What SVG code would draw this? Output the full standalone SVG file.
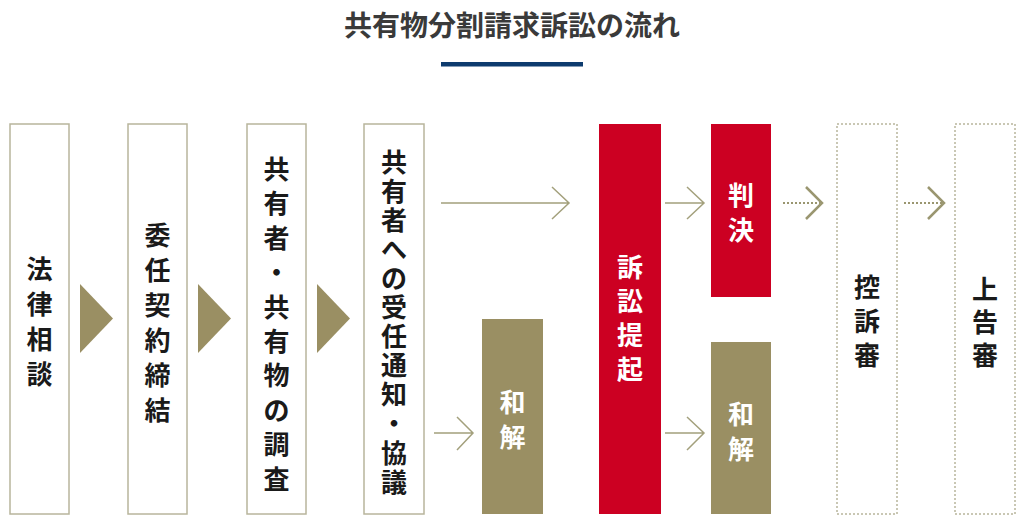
<svg xmlns="http://www.w3.org/2000/svg" width="1024" height="520" viewBox="0 0 1024 520">
<style>
text{font-family:"Noto Sans CJK JP","Noto Sans",sans-serif;font-weight:700;text-anchor:middle;dominant-baseline:central}
.t{font-size:26px;fill:#1a1a1a}
.w{font-size:26px;fill:#ffffff}
.box{fill:#ffffff;stroke:#b8b59c;stroke-width:1.5}
.dbox{fill:#ffffff;stroke:#b8b59c;stroke-width:1.5;stroke-dasharray:2 2}
.red{fill:#cc0022}
.olive{fill:#9a8f63}
.tri{fill:#9a8f63}
.ar{fill:none;stroke:#a3a07c;stroke-width:1.5}
.dar{fill:none;stroke:#9a9670;stroke-width:2;stroke-dasharray:2 2}
.chev{fill:none;stroke:#9a9670;stroke-width:2.5}
</style>
<rect width="1024" height="520" fill="#ffffff"/>
<g id="title">
<text x="512" y="24" style="font-size:28px;fill:#3a3a3a">共有物分割請求訴訟の流れ</text>
<rect x="441" y="62" width="142" height="4.5" fill="#0d3b6e"/>
</g>
<g id="n1">
<rect class="box" x="10" y="124" width="59" height="390"/>
<text class="t"><tspan x="39.5" y="267">法</tspan><tspan x="39.5" y="302">律</tspan><tspan x="39.5" y="337">相</tspan><tspan x="39.5" y="372">談</tspan></text>
</g>
<g id="n2">
<rect class="box" x="128" y="124" width="59" height="390"/>
<text class="t"><tspan x="157.5" y="233">委</tspan><tspan x="157.5" y="268">任</tspan><tspan x="157.5" y="303">契</tspan><tspan x="157.5" y="338">約</tspan><tspan x="157.5" y="373">締</tspan><tspan x="157.5" y="408">結</tspan></text>
</g>
<g id="n3">
<rect class="box" x="247" y="124" width="59" height="390"/>
<text class="t"><tspan x="276.5" y="167">共</tspan><tspan x="276.5" y="201">有</tspan><tspan x="276.5" y="236">者</tspan><tspan x="276.5" y="270">・</tspan><tspan x="276.5" y="305">共</tspan><tspan x="276.5" y="339">有</tspan><tspan x="276.5" y="373">物</tspan><tspan x="276.5" y="408">の</tspan><tspan x="276.5" y="442">調</tspan><tspan x="276.5" y="477">査</tspan></text>
</g>
<g id="n4">
<rect class="box" x="364" y="124" width="60" height="390"/>
<text class="t"><tspan x="394" y="160">共</tspan><tspan x="394" y="189">有</tspan><tspan x="394" y="218">者</tspan><tspan x="394" y="247">へ</tspan><tspan x="394" y="276">の</tspan><tspan x="394" y="305">受</tspan><tspan x="394" y="334">任</tspan><tspan x="394" y="363">通</tspan><tspan x="394" y="392">知</tspan><tspan x="394" y="421">・</tspan><tspan x="394" y="451">協</tspan><tspan x="394" y="480">議</tspan></text>
</g>
<g id="n5">
<rect class="olive" x="482" y="319" width="61" height="195"/>
<text class="w"><tspan x="512.5" y="400">和</tspan><tspan x="512.5" y="435">解</tspan></text>
</g>
<g id="n6">
<rect class="red" x="599" y="124" width="62" height="390"/>
<text class="w"><tspan x="630" y="265">訴</tspan><tspan x="630" y="299">訟</tspan><tspan x="630" y="333">提</tspan><tspan x="630" y="367">起</tspan></text>
</g>
<g id="n7">
<rect class="red" x="711" y="124" width="60" height="173"/>
<text class="w"><tspan x="741" y="193">判</tspan><tspan x="741" y="228">決</tspan></text>
</g>
<g id="n8">
<rect class="olive" x="711" y="342" width="60" height="172"/>
<text class="w"><tspan x="741" y="412">和</tspan><tspan x="741" y="447">解</tspan></text>
</g>
<g id="n9">
<rect class="dbox" x="837" y="124" width="60" height="390"/>
<text class="t"><tspan x="867" y="285">控</tspan><tspan x="867" y="319">訴</tspan><tspan x="867" y="353">審</tspan></text>
</g>
<g id="n10">
<rect class="dbox" x="955" y="124" width="60" height="390"/>
<text class="t"><tspan x="985" y="287">上</tspan><tspan x="985" y="320">告</tspan><tspan x="985" y="353">審</tspan></text>
</g>
<g id="connectors">
<polygon class="tri" points="80,284 113,318.5 80,353"/>
<polygon class="tri" points="198,284 231,318.5 198,353"/>
<polygon class="tri" points="317,284 350,318.5 317,353"/>
<path class="ar" d="M441,203 H569 M552,187 L569,203 L552,219"/>
<path class="ar" d="M434,433 H473 M457,417 L473,433 L457,450"/>
<path class="ar" d="M665,203 H704 M687,187 L704,203 L687,219"/>
<path class="ar" d="M665,433 H704 M687,417 L704,433 L687,450"/>
<path class="dar" d="M783,203 H820"/>
<path class="chev" d="M806,187 L822,203 L806,219"/>
<path class="dar" d="M904,203 H942"/>
<path class="chev" d="M928,187 L944,203 L928,219"/>
</g>
</svg>
